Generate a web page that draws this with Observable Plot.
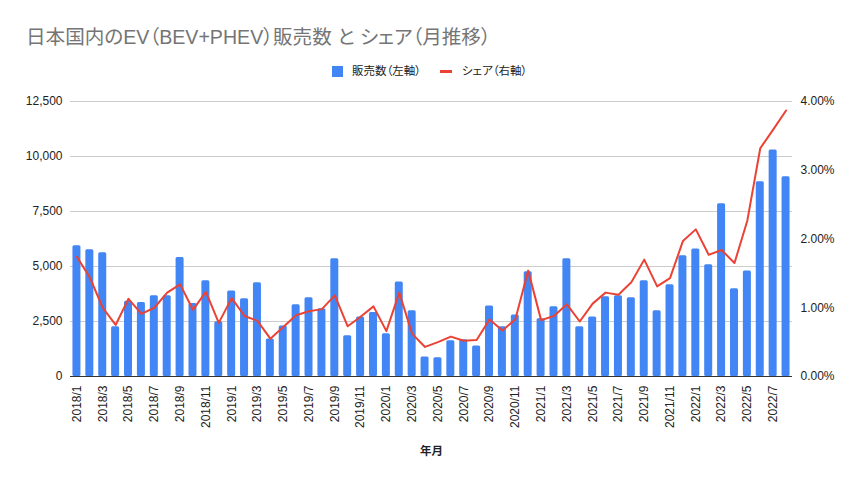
<!DOCTYPE html>
<html>
<head>
<meta charset="utf-8">
<script src="https://cdn.jsdelivr.net/npm/d3@7"></script>
<script src="https://cdn.jsdelivr.net/npm/@observablehq/plot@0.6"></script>
<style>
  body { margin: 0; background: #fff; font-family: "Liberation Sans", Arial, "Noto Sans CJK JP", sans-serif; }
  #wrap { width: 859px; height: 484px; position: relative; overflow: hidden; }
  #header { position: relative; width: 859px; height: 90px; }
  #title { position: absolute; left: 26px; top: 25px; font-size: 19.6px; color: #757575; white-space: nowrap; line-height: 24px; font-feature-settings: "palt"; }
  .lg { position: absolute; font-size: 11.5px; color: #222; white-space: nowrap; line-height: 14px; font-feature-settings: "palt"; }
  .sw-bar { position: absolute; left: 332px; top: 66px; width: 11px; height: 11px; background: #4285f4; }
  .sw-line { position: absolute; left: 440px; top: 70px; width: 12px; height: 3px; background: #ea4335; }
</style>
</head>
<body>
<div id="wrap">
  <div id="header">
    <div id="title"></div>
    <div class="sw-bar"></div>
    <div class="lg" id="lg1" style="left:352px; top:64px;"></div>
    <div class="sw-line"></div>
    <div class="lg" id="lg2" style="left:462px; top:64px;"></div>
  </div>
  <div id="chart"></div>
</div>
<script>
const titleText = "日本国内のEV（BEV+PHEV）販売数 と シェア（月推移）";
const seriesNames = ["販売数（左軸）", "シェア（右軸）"];
const xLabel = "年月";

const months = [
  "2018/1","2018/2","2018/3","2018/4","2018/5","2018/6","2018/7","2018/8","2018/9","2018/10","2018/11","2018/12",
  "2019/1","2019/2","2019/3","2019/4","2019/5","2019/6","2019/7","2019/8","2019/9","2019/10","2019/11","2019/12",
  "2020/1","2020/2","2020/3","2020/4","2020/5","2020/6","2020/7","2020/8","2020/9","2020/10","2020/11","2020/12",
  "2021/1","2021/2","2021/3","2021/4","2021/5","2021/6","2021/7","2021/8","2021/9","2021/10","2021/11","2021/12",
  "2022/1","2022/2","2022/3","2022/4","2022/5","2022/6","2022/7","2022/8"
];
const sales = [
  5940,5760,5620,2260,3420,3360,3670,3670,5410,3320,4350,2490,
  3890,3530,4260,1710,2300,3260,3580,3080,5350,1850,2710,2910,
  1940,4300,2990,890,850,1620,1670,1390,3210,2260,2800,4760,
  2620,3170,5350,2260,2710,3620,3670,3580,4350,2990,4170,5490,
  5800,5080,7850,3990,4800,8850,10300,9080
];
const share = [
  1.74,1.44,1.00,0.75,1.13,0.91,1.00,1.22,1.34,0.97,1.23,0.78,
  1.14,0.88,0.81,0.55,0.72,0.89,0.95,0.98,1.18,0.73,0.87,1.02,
  0.66,1.22,0.62,0.43,0.50,0.58,0.52,0.53,0.83,0.67,0.83,1.54,
  0.82,0.88,1.05,0.80,1.06,1.22,1.19,1.37,1.70,1.31,1.43,1.97,
  2.14,1.77,1.84,1.65,2.27,3.32,3.59,3.87
];
const leftTicks = [0, 2500, 5000, 7500, 10000, 12500];
const rightTicks = [0, 1, 2, 3, 4];
const leftMax = 12500, rightMax = 4;

document.getElementById("title").textContent = titleText;
document.getElementById("lg1").textContent = seriesNames[0];
document.getElementById("lg2").textContent = seriesNames[1];

const data = months.map((m, i) => ({month: m, sales: sales[i], share: share[i]}));
const toLeft = v => v * leftMax / rightMax;

const chart = Plot.plot({
  width: 859,
  height: 394,
  marginTop: 11,
  marginBottom: 108,
  marginLeft: 70,
  marginRight: 67,
  style: {fontFamily: '"Liberation Sans", Arial, "Noto Sans CJK JP", sans-serif', fontSize: "12px", color: "#222", background: "#fff"},
  x: {type: "band", domain: months, paddingInner: 0.38, paddingOuter: 0.19, label: null},
  y: {domain: [0, leftMax], label: null},
  marks: [
    Plot.ruleY(leftTicks.filter(d => d > 0), {stroke: "#cccccc", strokeWidth: 1}),
    Plot.barY(data, {x: "month", y: "sales", fill: "#4285f4", rx: 1.5}),
    Plot.ruleY([0], {stroke: "#333", strokeWidth: 1}),
    Plot.line(data, {x: "month", y: d => toLeft(d.share), stroke: "#ea4335", strokeWidth: 2}),
    Plot.axisY({anchor: "left", ticks: leftTicks, tickSize: 0, tickPadding: 8, label: null,
      tickFormat: d => d3.format(",")(d), fontSize: 12, color: "#222"}),
    Plot.axisY({anchor: "right", ticks: rightTicks.map(toLeft), tickSize: 0, tickPadding: 8, label: null,
      tickFormat: d => (d * rightMax / leftMax).toFixed(2) + "%", fontSize: 12}),
    Plot.axisX({anchor: "bottom", ticks: months.filter((d, i) => i % 2 === 0), tickSize: 0, tickPadding: 9,
      tickRotate: -90, label: null, fontSize: 12}),
    Plot.text([xLabel], {text: d => d, frameAnchor: "bottom", dy: 78, fontSize: 11.5, fill: "#222", fontWeight: "bold"})
  ]
});
document.getElementById("chart").appendChild(chart);
</script>
</body>
</html>
